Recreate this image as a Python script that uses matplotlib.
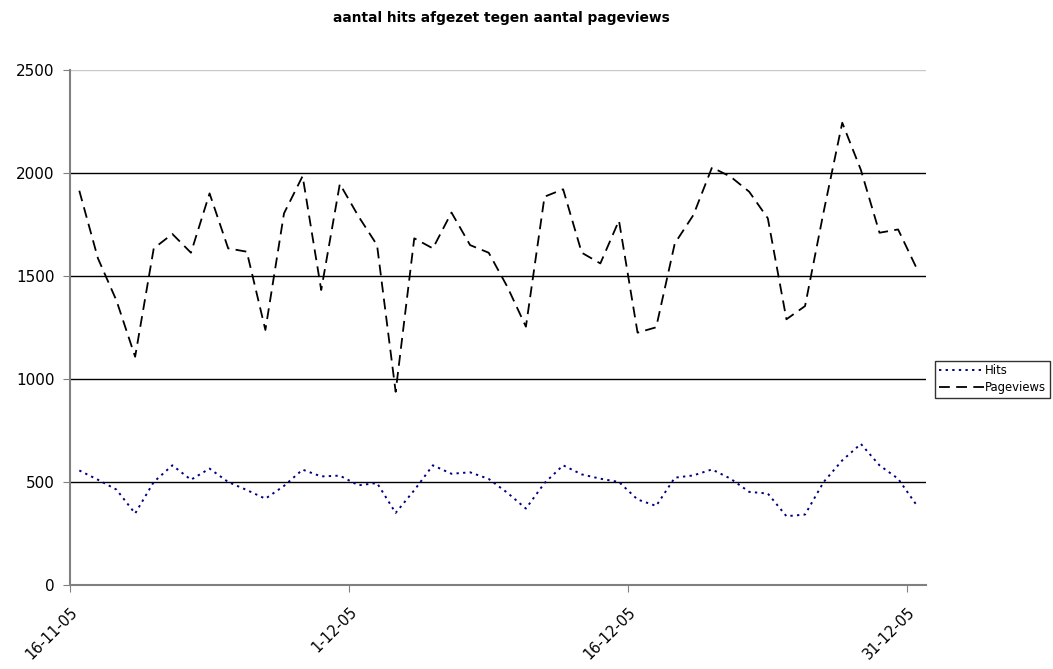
import numpy as np
import pandas as pd
import matplotlib
matplotlib.use("Agg")
import matplotlib.pyplot as plt

plt.rcParams['font.family'] = ['DejaVu Sans']

dates = pd.date_range("2005-11-16", periods=46, freq="D")

pageviews = [1914, 1586, 1380, 1108, 1634, 1704, 1613, 1901, 1634, 1618,
             1238, 1804, 1985, 1432, 1947, 1790, 1650, 938, 1683, 1634,
             1808, 1650, 1613, 1448, 1254, 1885, 1921, 1613, 1561, 1769,
             1225, 1251, 1658, 1796, 2027, 1982, 1909, 1780, 1290, 1354,
             1812, 2244, 2015, 1710, 1726, 1537]

hits = [556, 511, 463, 347, 500, 581, 511, 565, 500, 461,
        419, 481, 560, 527, 531, 484, 495, 350, 460, 581,
        540, 547, 515, 448, 371, 495, 581, 537, 516, 500,
        415, 384, 521, 532, 561, 516, 452, 444, 334, 342,
        500, 605, 685, 581, 516, 387]

tick_dates = ["2005-11-16", "2005-12-01", "2005-12-16", "2005-12-31"]
yticks = [0, 500, 1000, 1500, 2000, 2500]


def main():
    fig = plt.figure(figsize=(10.53, 6.69), dpi=100)
    ax = fig.add_axes([70 / 1053, 84 / 669, 856 / 1053, 515 / 669])

    # points sit in the middle of each day, as in the original
    x = dates + pd.Timedelta(hours=12)

    ax.plot(x, hits, color="#000080", linestyle=(0, (1.2, 2.2)), lw=1.4,
            label="Hits")
    ax.plot(x, pageviews, color="black", linestyle=(0, (6, 3.5)), lw=1.3,
            label="Pageviews")

    ax.set_ylim(0, 2500)
    ax.set_yticks(yticks)
    ax.set_xlim(dates[0], dates[-1] + pd.Timedelta(days=1))
    ticks = pd.to_datetime(tick_dates)
    ax.set_xticks(ticks)
    ax.set_xticklabels([f"{d.day}-{d.month}-{d.strftime('%y')}" for d in ticks],
                       rotation=45, ha="right", rotation_mode="anchor",
                       fontsize=10.5)
    ax.tick_params(axis="y", labelsize=11, length=5, color="#808080", pad=6)
    ax.tick_params(axis="x", length=5, color="#808080", pad=9)

    for v in yticks[1:]:
        c = "#c8c8c8" if v == 2500 else "black"
        ax.axhline(v, color=c, lw=1, zorder=0)

    for s in ["top", "right"]:
        ax.spines[s].set_visible(False)
    for s in ["left", "bottom"]:
        ax.spines[s].set_color("#808080")
        ax.spines[s].set_linewidth(1.5)

    fig.text(501 / 1053, 1 - 18 / 669, "aantal hits afgezet tegen aantal pageviews",
             ha="center", va="center", fontsize=9.9, fontweight="bold")

    leg = fig.legend(loc="upper left", bbox_to_anchor=(935 / 1053, 1 - 361 / 669),
                     fontsize=8.4, frameon=True, fancybox=False, borderpad=0.3,
                     handlelength=3.9, handletextpad=0.1, labelspacing=0.3,
                     borderaxespad=0)
    leg.get_frame().set_edgecolor("black")
    leg.get_frame().set_linewidth(1)

    fig.savefig("out.png", dpi=100)
    plt.close(fig)


if __name__ == "__main__":
    main()
